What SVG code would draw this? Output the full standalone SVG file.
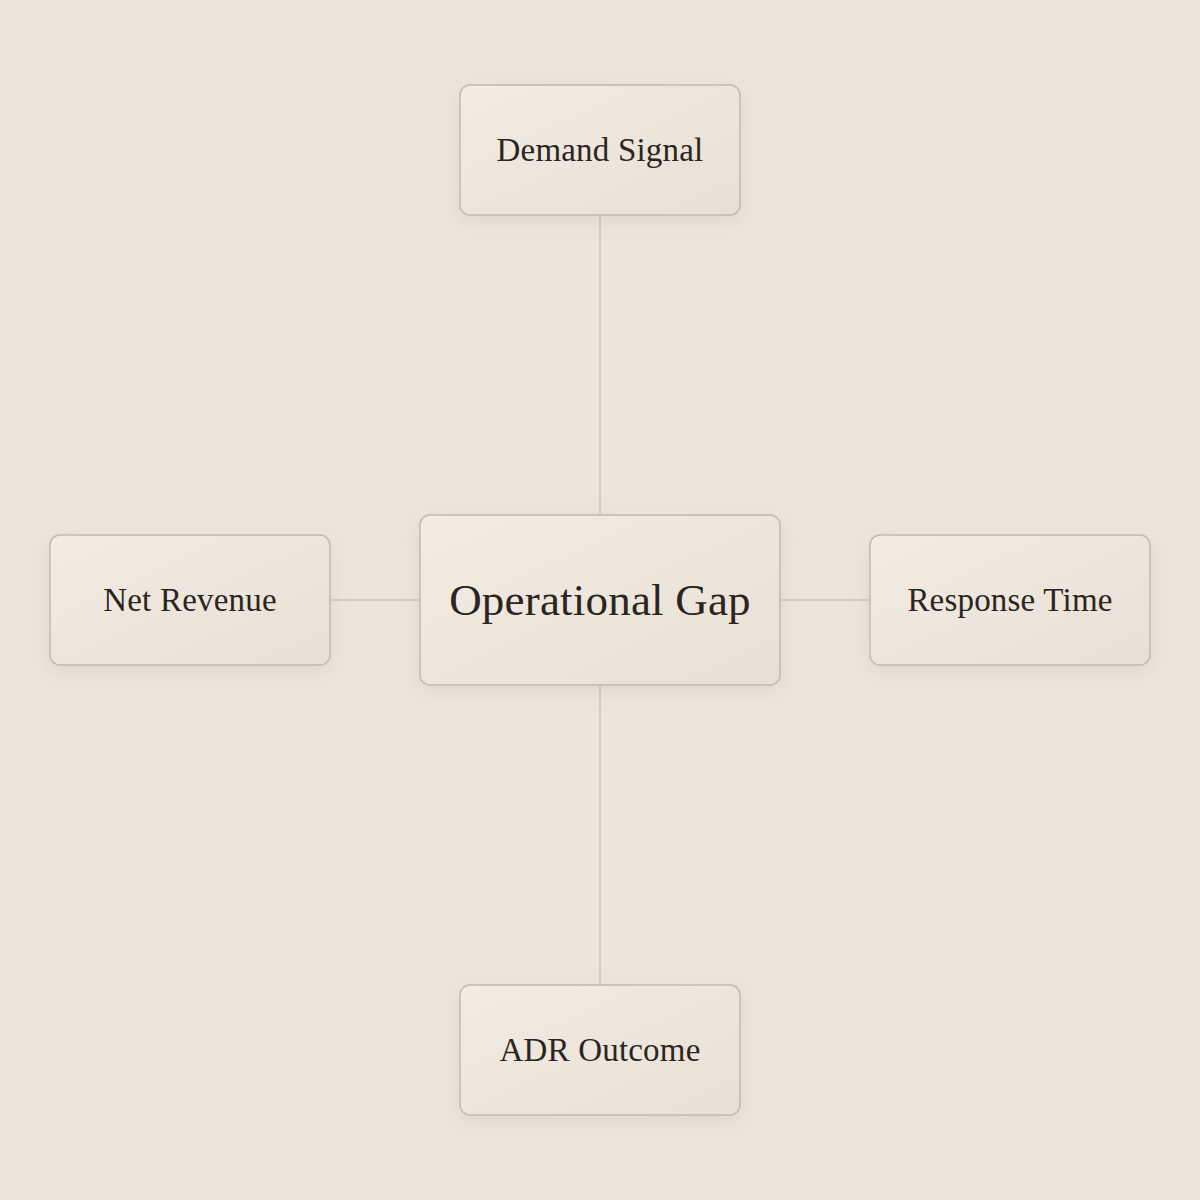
<svg xmlns="http://www.w3.org/2000/svg" width="1200" height="1200" viewBox="0 0 1200 1200">
<style>
.node rect{fill:url(#g);stroke:#C3BAAF;stroke-width:1.5;filter:url(#sh)}
.node text{font-family:"Liberation Serif","DejaVu Serif",serif;fill:#2B2520;text-anchor:middle;dominant-baseline:central}
.lbl{font-size:33px;letter-spacing:0.2px}
.main{font-size:45px;letter-spacing:0.2px}
.conn line{stroke:#CCC3B8;stroke-width:1.5}
</style>
<defs>
<linearGradient id="g" x1="0" y1="0" x2="1" y2="1">
<stop offset="0" stop-color="#F2ECE3"/>
<stop offset="1" stop-color="#E8E0D5"/>
</linearGradient>
<filter id="sh" x="-20%" y="-20%" width="140%" height="150%">
<feDropShadow dx="0" dy="6" stdDeviation="9" flood-color="#8A7A66" flood-opacity="0.13"/>
</filter>
</defs>
<rect width="1200" height="1200" fill="#EDE5DC"/>
<g class="conn" id="connectors">
<line x1="600" y1="215" x2="600" y2="515"/>
<line x1="600" y1="685" x2="600" y2="985"/>
<line x1="330" y1="600" x2="420" y2="600"/>
<line x1="780" y1="600" x2="870" y2="600"/>
</g>
<g class="node" id="demand-signal"><rect x="460" y="85" width="280" height="130" rx="10"/><text class="lbl" x="600" y="150">Demand Signal</text></g>
<g class="node" id="net-revenue"><rect x="50" y="535" width="280" height="130" rx="10"/><text class="lbl" x="190" y="600">Net Revenue</text></g>
<g class="node" id="response-time"><rect x="870" y="535" width="280" height="130" rx="10"/><text class="lbl" x="1010" y="600">Response Time</text></g>
<g class="node" id="adr-outcome"><rect x="460" y="985" width="280" height="130" rx="10"/><text class="lbl" x="600" y="1050">ADR Outcome</text></g>
<g class="node" id="operational-gap"><rect x="420" y="515" width="360" height="170" rx="10"/><text class="main" x="600" y="600">Operational Gap</text></g>
</svg>
